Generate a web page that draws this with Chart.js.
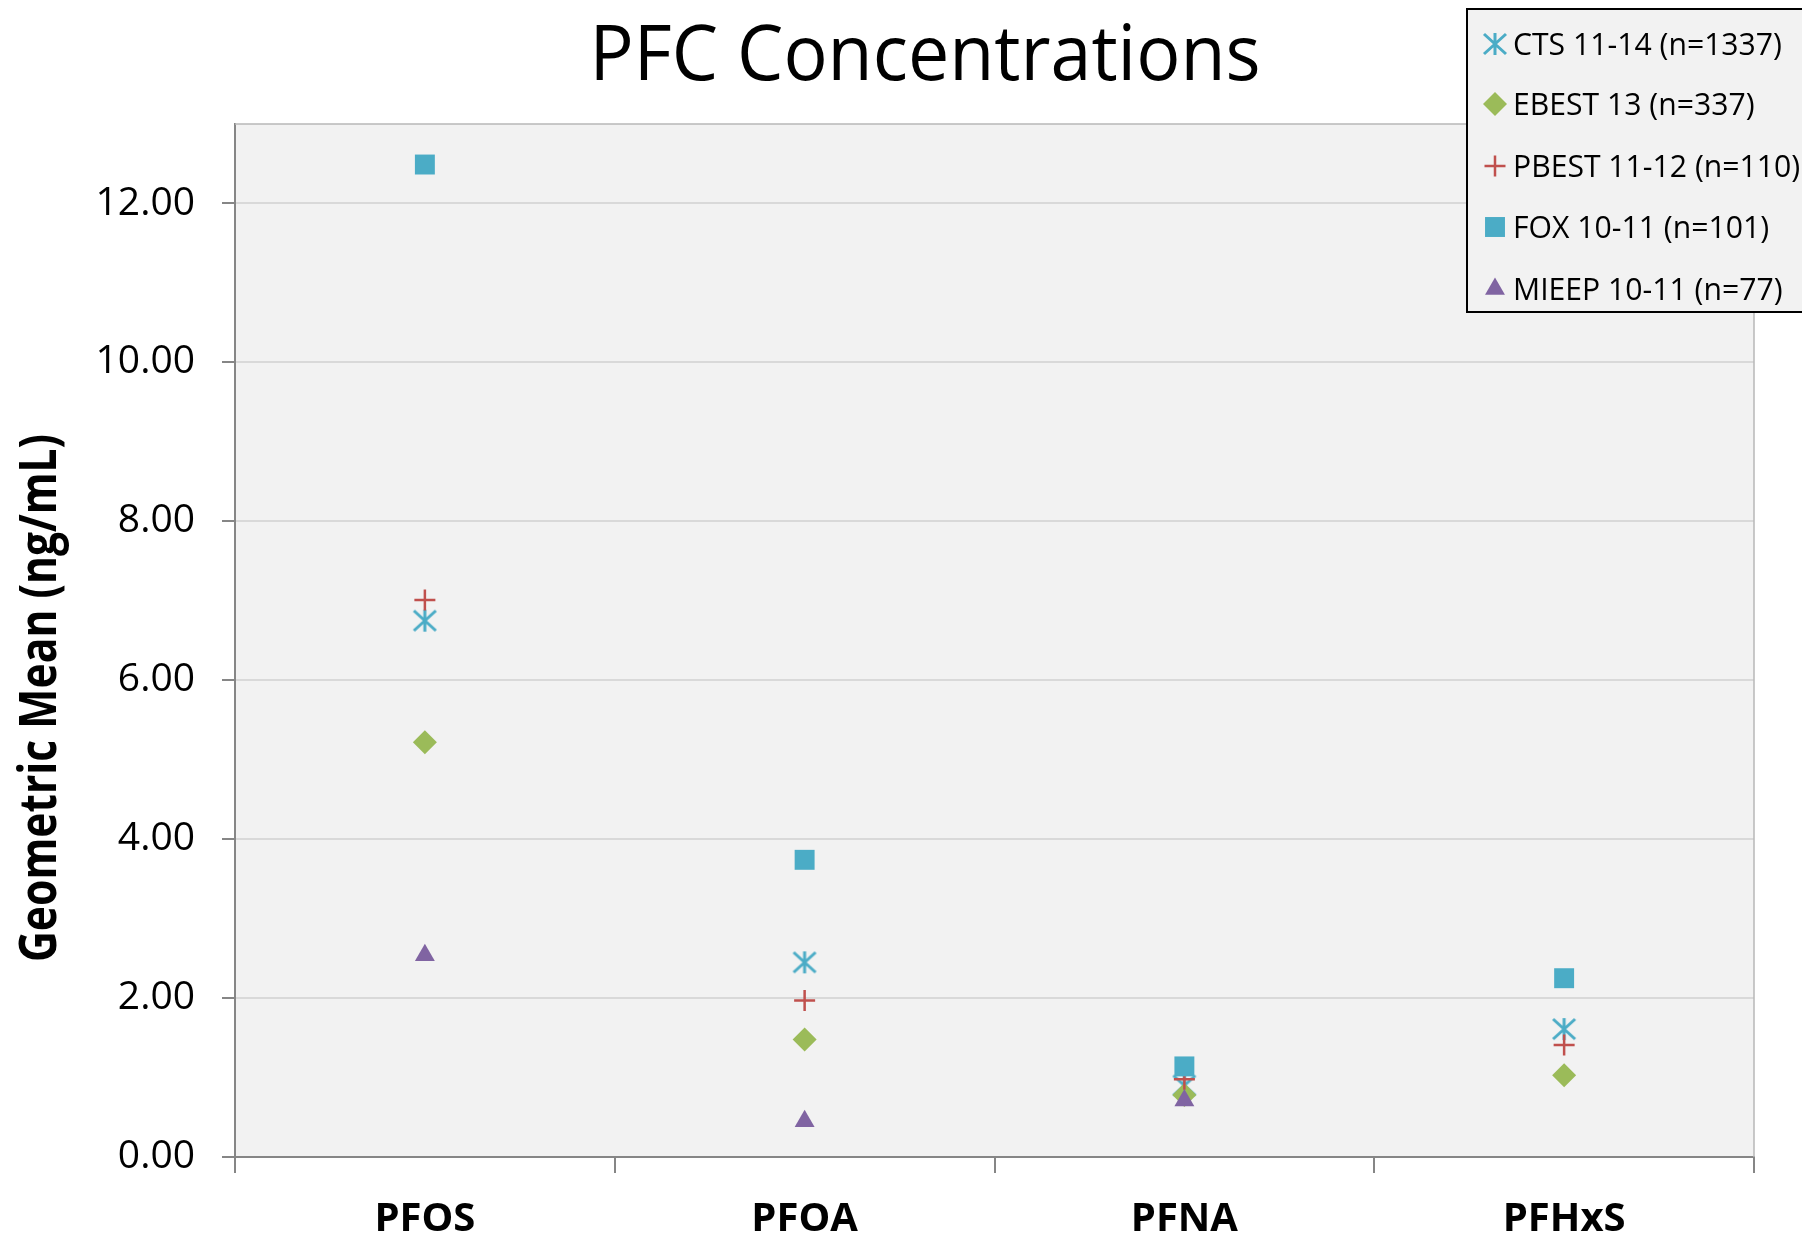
<!DOCTYPE html>
<html>
<head>
<meta charset="utf-8">
<title>PFC Concentrations</title>
<script src="https://cdn.jsdelivr.net/npm/chart.js@4.4.1/dist/chart.umd.min.js"></script>
<style>
    html, body { margin: 0; padding: 0; background: #ffffff; }
    #contenedor { position: relative; width: 1802px; height: 1237px; }
</style>
</head>
<body>
<div id="contenedor"><canvas id="pfcChart"></canvas></div>
<script>
// datos (media geometrica, ng/mL)
const compuestos = ['PFOS', 'PFOA', 'PFNA', 'PFHxS'];
const serieCTS = [6.75, 2.45, 0.90, 1.61];
const serieEBEST = [5.22, 1.48, 0.78, 1.03];
const seriePBEST = [7.01, 1.97, 0.98, 1.41];
const serieFOX = [12.49, 3.74, 1.14, 2.25];
const serieMIEEP = [2.54, 0.45, 0.71, null];
const etiquetasSeries = ['CTS 11-14 (n=1337)', 'EBEST 13 (n=337)', 'PBEST 11-12 (n=110)', 'FOX 10-11 (n=101)', 'MIEEP 10-11 (n=77)'];
const marcasEjeY = [0, 2, 4, 6, 8, 10, 12];
const tituloGrafica = 'PFC Concentrations';
const tituloEjeY = 'Geometric Mean (ng/mL)';

/**
 * Dibuja el asterisco de Excel (linea vertical + dos diagonales) en un canvas pequeño
 * para usarlo como pointStyle.
 */
function crearAsterisco(color) {
    const c = document.createElement('canvas');
    c.width = 28;
    c.height = 28;
    const ctx = c.getContext('2d');
    ctx.strokeStyle = color;
    ctx.lineWidth = 3;
    ctx.beginPath();
    ctx.moveTo(14, 3); ctx.lineTo(14, 25);
    ctx.moveTo(3, 4); ctx.lineTo(25, 24);
    ctx.moveTo(25, 4); ctx.lineTo(3, 24);
    ctx.stroke();
    return c;
}

/**
 * Escribe un texto estirado o comprimido en horizontal para que ocupe el ancho indicado.
 */
function textoAjustado(ctx, texto, ancho, alineacion) {
    const medido = ctx.measureText(texto).width;
    ctx.save();
    ctx.scale(ancho / medido, 1);
    ctx.textAlign = alineacion;
    ctx.fillText(texto, 0, 0);
    ctx.restore();
}

const asterisco = crearAsterisco('#4bacc6');

const pluginExcel = {
    id: 'pluginExcel',
    beforeDraw(chart) {
        const { ctx, chartArea: a } = chart;
        ctx.save();
        ctx.fillStyle = '#f2f2f2';
        ctx.fillRect(a.left, a.top, a.right - a.left, a.bottom - a.top);
        ctx.restore();
    },
    beforeDatasetsDraw(chart) {
        const { ctx, chartArea: a } = chart;
        ctx.save();
        ctx.strokeStyle = '#b8b8b8';
        ctx.lineWidth = 1.5;
        ctx.beginPath();
        ctx.moveTo(a.left, a.top);
        ctx.lineTo(a.right, a.top);
        ctx.lineTo(a.right, a.bottom);
        ctx.stroke();
        ctx.restore();
    },
    afterDraw(chart) {
        const ctx = chart.ctx;
        ctx.save();
        ctx.fillStyle = '#000000';
        ctx.textBaseline = 'alphabetic';

        // titulo
        ctx.font = '77px "Open Sans"';
        ctx.save();
        ctx.translate(925, 80);
        textoAjustado(ctx, tituloGrafica, 671, 'center');
        ctx.restore();

        // titulo del eje Y
        ctx.font = 'bold 52px "Open Sans"';
        ctx.save();
        ctx.translate(56, 698);
        ctx.rotate(-Math.PI / 2);
        textoAjustado(ctx, tituloEjeY, 528, 'center');
        ctx.restore();

        // leyenda
        ctx.fillStyle = '#f2f2f2';
        ctx.fillRect(1467, 9, 400, 303);
        ctx.strokeStyle = '#000000';
        ctx.lineWidth = 2;
        ctx.strokeRect(1467, 9, 400, 303);

        const centros = [44, 104, 166, 227, 289];
        ctx.font = '31px "Open Sans"';
        const escala = 269 / ctx.measureText(etiquetasSeries[0]).width;
        chart.data.datasets.forEach((ds, i) => {
            ctx.save();
            ctx.fillStyle = ds.pointBackgroundColor;
            ctx.strokeStyle = ds.pointBorderColor;
            ctx.lineWidth = ds.pointBorderWidth;
            Chart.helpers.drawPoint(ctx, {
                pointStyle: ds.pointStyle,
                radius: ds.pointRadius,
                rotation: 0,
                borderWidth: ds.pointBorderWidth
            }, 1495, centros[i]);
            ctx.restore();

            ctx.save();
            ctx.fillStyle = '#000000';
            ctx.translate(1513, centros[i] + 11);
            ctx.scale(escala, 1);
            ctx.textAlign = 'left';
            ctx.fillText(ds.label, 0, 0);
            ctx.restore();
        });
        ctx.restore();
    }
};

const pfcCtx = document.getElementById('pfcChart').getContext('2d');
const pfcChart = new Chart(pfcCtx, {
    type: 'line',
    data: {
        labels: compuestos,
        datasets: [
            {
                label: etiquetasSeries[0],
                data: serieCTS,
                pointStyle: asterisco,
                pointRadius: 11,
                pointBackgroundColor: '#4bacc6',
                pointBorderColor: '#4bacc6',
                pointBorderWidth: 0,
                order: 4
            },
            {
                label: etiquetasSeries[1],
                data: serieEBEST,
                pointStyle: 'rectRot',
                pointRadius: 12,
                pointBackgroundColor: '#9bbb59',
                pointBorderColor: '#9bbb59',
                pointBorderWidth: 0,
                order: 3
            },
            {
                label: etiquetasSeries[2],
                data: seriePBEST,
                pointStyle: 'cross',
                pointRadius: 10.5,
                pointBackgroundColor: '#c0504d',
                pointBorderColor: '#c0504d',
                pointBorderWidth: 2.5,
                order: 2
            },
            {
                label: etiquetasSeries[3],
                data: serieFOX,
                pointStyle: 'rect',
                pointRadius: 14.1,
                pointBackgroundColor: '#4bacc6',
                pointBorderColor: '#4bacc6',
                pointBorderWidth: 0,
                order: 1
            },
            {
                label: etiquetasSeries[4],
                data: serieMIEEP,
                pointStyle: 'triangle',
                pointRadius: 11.5,
                pointBackgroundColor: '#8064a2',
                pointBorderColor: '#8064a2',
                pointBorderWidth: 0,
                order: 0
            }
        ].map(ds => Object.assign(ds, { showLine: false, pointHoverRadius: ds.pointRadius }))
    },
    options: {
        responsive: true,
        maintainAspectRatio: false,
        animation: false,
        events: [],
        layout: { padding: { top: 124, right: 48, left: 0, bottom: 0 } },
        plugins: {
            legend: { display: false },
            title: { display: false },
            tooltip: { enabled: false }
        },
        scales: {
            x: {
                type: 'category',
                offset: true,
                grid: {
                    offset: true,
                    drawOnChartArea: false,
                    tickLength: 16,
                    tickWidth: 2,
                    tickColor: '#868686',
                    color: '#868686',
                    lineWidth: 2
                },
                border: { color: '#868686', width: 2 },
                ticks: {
                    color: '#000000',
                    padding: 23,
                    font: { family: 'Open Sans', size: 40, weight: 'bold' }
                },
                afterFit: (scale) => { scale.height = 80; }
            },
            y: {
                min: 0,
                max: 13,
                grid: {
                    color: '#d9d9d9',
                    lineWidth: 2,
                    tickLength: 13,
                    tickWidth: 2,
                    tickColor: '#868686'
                },
                border: { color: '#868686', width: 2 },
                ticks: {
                    color: '#000000',
                    padding: 27,
                    font: { family: 'Open Sans', size: 39 },
                    callback: (valor) => Number(valor).toFixed(2)
                },
                afterBuildTicks: (scale) => {
                    scale.ticks = marcasEjeY.map(v => ({ value: v }));
                },
                afterFit: (scale) => { scale.width = 235; }
            }
        }
    },
    plugins: [pluginExcel]
});
</script>
</body>
</html>
